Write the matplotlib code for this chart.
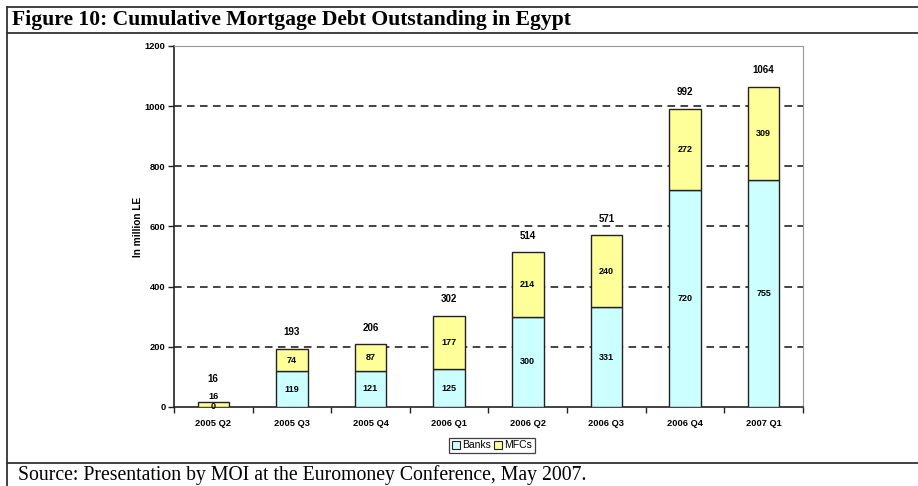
import matplotlib.pyplot as plt
import numpy as np
from matplotlib.lines import Line2D
from matplotlib.patches import Patch

quarters = ["2005 Q2", "2005 Q3", "2005 Q4", "2006 Q1",
            "2006 Q2", "2006 Q3", "2006 Q4", "2007 Q1"]
banks = [0, 119, 121, 125, 300, 331, 720, 755]
mfcs = [16, 74, 87, 177, 214, 240, 272, 309]
totals = [16, 193, 206, 302, 514, 571, 992, 1064]

BANK_COLOR = "#ccffff"
MFC_COLOR = "#ffff99"
EDGE = "#222222"
SANS = "Liberation Sans"

fig = plt.figure(figsize=(9.18, 4.86), dpi=100)
ax = fig.add_axes([0.1895, 0.1626, 0.6852, 0.7428])

x = np.arange(len(quarters))
w = 0.4
ax.bar(x, banks, w, color=BANK_COLOR, edgecolor=EDGE, linewidth=1.0,
       zorder=3, label="Banks")
ax.bar(x, mfcs, w, bottom=banks, color=MFC_COLOR, edgecolor=EDGE,
       linewidth=1.0, zorder=3, label="MFCs")

lbl = dict(ha="center", va="center", fontsize=6.5, fontweight="bold",
           family=SANS, zorder=4, textcoords="offset points")
for i in range(len(quarters)):
    # thin segments get their label nudged up so the two don't sit on top of each other
    lift = 5.5 if mfcs[i] < 40 else 0
    ax.annotate(str(banks[i]), (x[i], banks[i] / 2), xytext=(0, 0), **lbl)
    ax.annotate(str(mfcs[i]), (x[i], banks[i] + mfcs[i] / 2),
                xytext=(0, lift), **lbl)
    top_gap = 17 if mfcs[i] < 40 else 12
    ax.annotate(str(totals[i]), (x[i], banks[i] + mfcs[i]),
                xytext=(0, top_gap), textcoords="offset points",
                ha="center", va="center", fontsize=7, fontweight="bold",
                family=SANS)

ax.set_xlim(-0.5, len(quarters) - 0.5)
ax.set_ylim(0, 1200)
ax.set_yticks(np.arange(0, 1201, 200))
ax.set_xticks(x)
ax.set_xticklabels(quarters)
ax.set_xticks(np.arange(-0.5, len(quarters), 1), minor=True)
ax.tick_params(axis="x", which="major", length=0, pad=9)
ax.tick_params(axis="x", which="minor", length=4, width=1, color=EDGE,
               direction="out")
ax.tick_params(axis="y", length=4, width=1, color=EDGE, direction="out", pad=2)
for t in ax.get_xticklabels() + ax.get_yticklabels():
    t.set_fontsize(6.7)
    t.set_fontweight("bold")
    t.set_family(SANS)

for yv in range(200, 1200, 200):
    ax.axhline(yv, color="#111111", linewidth=1.1, linestyle=(0, (5, 3.5)),
               zorder=1)

ax.spines["left"].set_color(EDGE)
ax.spines["bottom"].set_color(EDGE)
ax.spines["left"].set_linewidth(1.2)
ax.spines["bottom"].set_linewidth(1.2)
ax.spines["top"].set_color("#999999")
ax.spines["right"].set_color("#999999")

ax.set_ylabel("In million LE", fontsize=7.3, fontweight="bold",
              family=SANS, labelpad=1.5)

handles = [Patch(facecolor=BANK_COLOR, edgecolor=EDGE, linewidth=0.8),
           Patch(facecolor=MFC_COLOR, edgecolor=EDGE, linewidth=0.8)]
leg = fig.legend(handles, ["Banks", "MFCs"], loc="center",
                 bbox_to_anchor=(0.536, 0.084), ncol=2, frameon=True,
                 fancybox=False, edgecolor="#111111", handlelength=0.8,
                 handleheight=0.8, handletextpad=0.2, columnspacing=0.3,
                 borderpad=0.25, prop={"family": SANS, "size": 7.5})
leg.get_frame().set_linewidth(0.9)

# figure frame with title and source rows
frame = dict(color="#333333", linewidth=1.3, transform=fig.transFigure)
fig.add_artist(Line2D([0.0076, 1], [0.9856, 0.9856], **frame))
fig.add_artist(Line2D([0.0076, 1], [0.932, 0.932], **frame))
fig.add_artist(Line2D([0.0076, 1], [0.0473, 0.0473], **frame))
fig.add_artist(Line2D([0.0076, 0.0076], [0, 0.9856], **frame))

fig.text(0.013, 0.959, "Figure 10: Cumulative Mortgage Debt Outstanding in Egypt",
         ha="left", va="center", fontsize=15.6, fontweight="bold",
         family="Liberation Serif")
fig.text(0.0196, 0.022,
         "Source: Presentation by MOI at the Euromoney Conference, May 2007.",
         ha="left", va="center", fontsize=14.2, family="Liberation Serif")

fig.savefig("out.png", dpi=100)
